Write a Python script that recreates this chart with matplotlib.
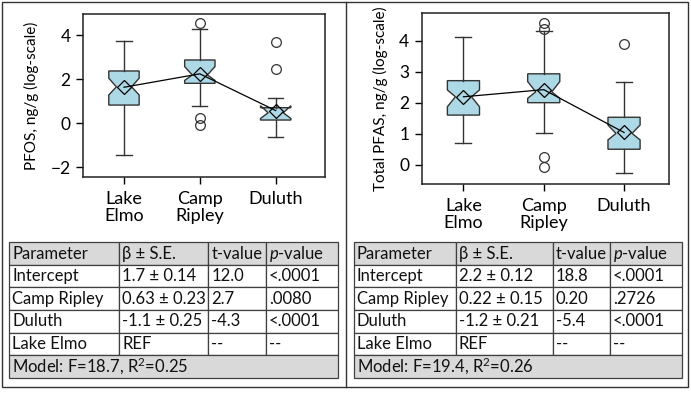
import matplotlib
matplotlib.use("Agg")
import matplotlib.pyplot as plt
from matplotlib.patches import Rectangle
from matplotlib.lines import Line2D

plt.rcParams['font.family'] = ['Lato', 'DejaVu Sans']
plt.rcParams['mathtext.fontset'] = 'custom'
plt.rcParams['mathtext.rm'] = 'Lato'
plt.rcParams['mathtext.it'] = 'Lato:italic'

############## donnees ##############
sites = ["Lake\nElmo", "Camp\nRipley", "Duluth"]

# PFOS (log)
pfos_whislo = [-1.44, 0.79, -0.64]
pfos_q1 = [0.83, 1.82, 0.15]
pfos_med = [1.66, 2.20, 0.48]
pfos_q3 = [2.38, 2.88, 0.71]
pfos_whishi = [3.74, 4.27, 1.16]
pfos_cilo = [1.29, 1.95, 0.22]
pfos_cihi = [2.05, 2.58, 0.80]
pfos_mean = [1.64, 2.25, 0.58]
pfos_fliers = [[], [4.55, 0.23, -0.08], [3.71, 2.45]]

# Total PFAS (log)
tot_whislo = [0.69, 1.01, -0.28]
tot_q1 = [1.60, 2.00, 0.50]
tot_med = [2.19, 2.35, 1.01]
tot_q3 = [2.71, 2.93, 1.53]
tot_whishi = [4.11, 4.32, 2.68]
tot_cilo = [1.87, 2.14, 0.80]
tot_cihi = [2.41, 2.68, 1.28]
tot_mean = [2.19, 2.42, 1.04]
tot_fliers = [[], [4.58, 4.37, 0.26, -0.08], [3.88]]

# tableaux de regression
entetes = ["Parameter", "β ± S.E.", "t-value", "$p$-value"]
pfos_table = [["Intercept", "1.7 ± 0.14", "12.0", "<.0001"],
              ["Camp Ripley", "0.63 ± 0.23", "2.7", ".0080"],
              ["Duluth", "-1.1 ± 0.25", "-4.3", "<.0001"],
              ["Lake Elmo", "REF", "--", "--"]]
pfos_model = "Model: F=18.7, R$^2$=0.25"
tot_table = [["Intercept", "2.2 ± 0.12", "18.8", "<.0001"],
             ["Camp Ripley", "0.22 ± 0.15", "0.20", ".2726"],
             ["Duluth", "-1.2 ± 0.21", "-5.4", "<.0001"],
             ["Lake Elmo", "REF", "--", "--"]]
tot_model = "Model: F=19.4, R$^2$=0.26"
#####################################

W, H = 691, 396
fig = plt.figure(figsize=(W / 100, H / 100), dpi=100)

bleu = '#ADD8E6'
bord = '#333333'


def px_axes(x0, x1, ytop, ybot):
    return fig.add_axes([x0 / W, (H - ybot) / H, (x1 - x0) / W, (ybot - ytop) / H])


def boxplot(ax, whislo, q1, med, q3, whishi, cilo, cihi, mean, fliers, ylabel, ylim, xlim, yticks):
    stats = []
    for i in range(3):
        stats.append(dict(whislo=whislo[i], q1=q1[i], med=med[i], q3=q3[i], whishi=whishi[i],
                          cilo=cilo[i], cihi=cihi[i], mean=mean[i], fliers=fliers[i]))
    ax.bxp(stats, positions=[1, 2, 3], widths=0.4, shownotches=True, patch_artist=True,
           showmeans=False,
           boxprops=dict(facecolor=bleu, edgecolor=bord, linewidth=1),
           whiskerprops=dict(color=bord, linewidth=1),
           capprops=dict(color=bord, linewidth=1),
           medianprops=dict(linewidth=0),
           flierprops=dict(marker='o', markerfacecolor='none', markeredgecolor=bord,
                           markersize=7, markeredgewidth=0.9))
    ax.plot([1, 2, 3], mean, color='black', linewidth=0.9, zorder=4)
    ax.plot([1, 2, 3], mean, linestyle='none', marker='D', markersize=7.5,
            markerfacecolor='none', markeredgecolor='black', markeredgewidth=0.9, zorder=5)
    ax.set_xlim(xlim)
    ax.set_ylim(ylim)
    ax.set_yticks(yticks)
    ax.set_xticks([1, 2, 3])
    ax.set_xticklabels(sites, fontsize=13, linespacing=1.1)
    ax.tick_params(axis='y', labelsize=12.5, direction='out', length=5, width=1, pad=4)
    ax.tick_params(axis='x', direction='out', length=5, width=1, pad=5)
    ax.set_ylabel(ylabel, fontsize=11, labelpad=8)
    for s in ax.spines.values():
        s.set_linewidth(1.1)
        s.set_color('#222222')


ax1 = px_axes(83, 325, 14, 177)
boxplot(ax1, pfos_whislo, pfos_q1, pfos_med, pfos_q3, pfos_whishi, pfos_cilo, pfos_cihi,
        pfos_mean, pfos_fliers, "PFOS, ng/g (log-scale)", (-2.44, 4.97), (0.46, 3.65), [-2, 0, 2, 4])

ax2 = px_axes(421.7, 669, 13.3, 184)
boxplot(ax2, tot_whislo, tot_q1, tot_med, tot_q3, tot_whishi, tot_cilo, tot_cihi,
        tot_mean, tot_fliers, "Total PFAS, ng/g (log-scale)", (-0.62, 4.88), (0.48, 3.56), [0, 1, 2, 3, 4])


def rect_px(x0, y0, x1, y1, fc):
    fig.patches.append(Rectangle((x0 / W, 1 - y1 / H), (x1 - x0) / W, (y1 - y0) / H,
                                 transform=fig.transFigure, facecolor=fc,
                                 edgecolor='#404040', linewidth=0.9))


def text_px(x, y, s):
    fig.text(x / W, 1 - y / H, s, fontsize=12, ha='left', va='center', color='#111111')


def table(cols, ytop, rh, rows, model):
    n = len(rows) + 2
    # entete
    for j in range(4):
        rect_px(cols[j], ytop, cols[j + 1], ytop + rh, '#D9D9D9')
        text_px(cols[j] + 3, ytop + rh / 2, entetes[j])
    for i, r in enumerate(rows):
        y0 = ytop + (i + 1) * rh
        for j in range(4):
            rect_px(cols[j], y0, cols[j + 1], y0 + rh, 'white')
            text_px(cols[j] + 3, y0 + rh / 2, r[j])
    y0 = ytop + (n - 1) * rh
    rect_px(cols[0], y0, cols[4], y0 + rh, '#D9D9D9')
    text_px(cols[0] + 3, y0 + rh / 2, model)


rh = (377.7 - 242.3) / 6
table([9, 119.3, 208.3, 266, 337.7], 242.3, rh, pfos_table, pfos_model)
table([353.5, 456, 552.7, 610, 682.3], 242.3, rh, tot_table, tot_model)

# cadre
fig.patches.append(Rectangle((2 / W, 1 - 387 / H), 686 / W, 385 / H, transform=fig.transFigure,
                             facecolor='none', edgecolor='#333333', linewidth=1))
fig.lines.append(Line2D([345.5 / W, 345.5 / W], [1 - 387 / H, 1 - 2 / H], transform=fig.transFigure,
                        color='#333333', linewidth=1))

fig.savefig("out.png", dpi=100)
